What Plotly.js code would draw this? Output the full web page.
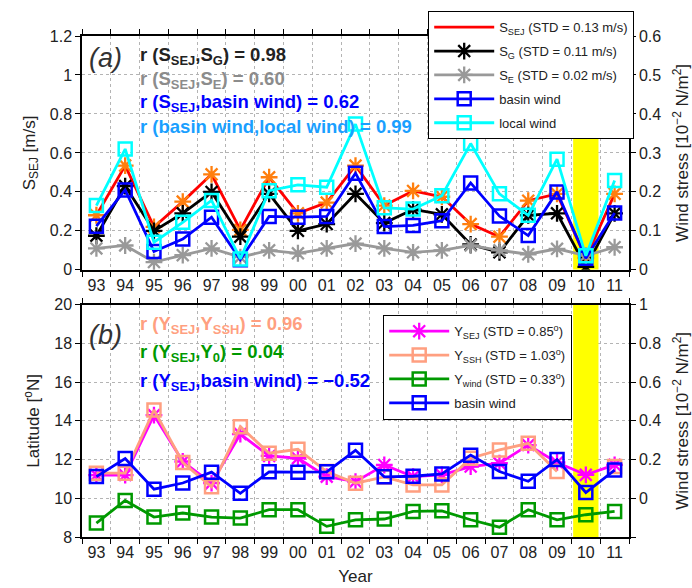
<!DOCTYPE html>
<html>
<head>
<meta charset="utf-8">
<script src="https://cdn.plot.ly/plotly-3.0.1.min.js"></script>
<style>
  html, body { margin: 0; padding: 0; background: #fff; }
  #chart { width: 692px; height: 588px; }
</style>
</head>
<body>
<div id="chart"></div>
<script>
// Years 1993-2011 (two-digit labels)
const years = ['93','94','95','96','97','98','99','00','01','02','03','04','05','06','07','08','09','10','11'];

// Panel (a): jet speed components [m/s]
const sSEJ = [0.28, 0.535, 0.22, 0.35, 0.49, 0.205, 0.475, 0.29, 0.345, 0.535, 0.33, 0.405, 0.375, 0.235, 0.17, 0.355, 0.39, 0.06, 0.39];
const sG   = [0.175, 0.43, 0.20, 0.29, 0.40, 0.17, 0.39, 0.20, 0.235, 0.39, 0.24, 0.31, 0.285, 0.13, 0.09, 0.28, 0.29, 0.015, 0.29];
const sE   = [0.11, 0.125, 0.04, 0.075, 0.11, 0.065, 0.10, 0.085, 0.11, 0.135, 0.11, 0.09, 0.10, 0.125, 0.10, 0.08, 0.108, 0.073, 0.116];

// Wind stress [10^-2 N/m^2]
const basinWind = [0.112, 0.205, 0.047, 0.079, 0.135, 0.026, 0.137, 0.135, 0.137, 0.248, 0.111, 0.114, 0.126, 0.223, 0.138, 0.088, 0.20, 0.03, 0.146];
const localWind = [0.165, 0.31, 0.071, 0.122, 0.178, 0.028, 0.203, 0.218, 0.212, 0.374, 0.159, 0.156, 0.19, 0.324, 0.195, 0.14, 0.284, 0.036, 0.229];

// Panel (b): jet latitude [deg N]
const ySEJ  = [11.2, 11.2, 14.3, 11.9, 10.78, 13.32, 12.19, 12.07, 11.12, 10.86, 11.72, 11.12, 11.21, 11.64, 11.81, 12.75, 11.85, 11.21, 11.73];
const ySSH  = [11.3, 11.3, 14.56, 11.85, 10.6, 13.7, 12.33, 12.53, 11.38, 10.78, 11.1, 10.69, 10.69, 12.07, 12.5, 12.84, 11.38, null, 11.64];
const yWind = [8.72, 9.89, 9.03, 9.24, 9.03, 8.98, 9.41, 9.41, 8.55, 8.89, 8.93, 9.32, 9.35, 8.89, 8.51, 9.41, 8.89, 9.15, 9.32];

// Legend / annotation text
const legendA = ['S<sub>SEJ</sub> (STD = 0.13 m/s)', 'S<sub>G</sub> (STD = 0.11 m/s)', 'S<sub>E</sub> (STD = 0.02 m/s)', 'basin wind', 'local wind'];
const legendB = ['Y<sub>SEJ</sub> (STD = 0.85<sup>o</sup>)', 'Y<sub>SSH</sub> (STD = 1.03<sup>o</sup>)', 'Y<sub>wind</sub> (STD = 0.33<sup>o</sup>)', 'basin wind'];
const corrA = ['r (S<sub>SEJ</sub>,S<sub>G</sub>) = 0.98', 'r (S<sub>SEJ</sub>,S<sub>E</sub>) = 0.60', 'r (S<sub>SEJ</sub>,basin wind) = 0.62', 'r (basin wind,local wind) = 0.99'];
const corrB = ['r (Y<sub>SEJ</sub>,Y<sub>SSH</sub>) = 0.96', 'r (Y<sub>SEJ</sub>,Y<sub>0</sub>) = 0.04', 'r (Y<sub>SEJ</sub>,basin wind) = \u22120.52'];

// axis extents
const rangeA = [0, 1.2], rangeA2 = [0, 0.6], rangeB = [8, 20], rangeB2 = [-0.2, 1];

const FONT = 'Liberation Sans, Arial, Helvetica, sans-serif';
const RED = '#ff0000', BLACK = '#000000', GRAY = '#999999', BLUE = '#0000ff', CYAN = '#00ffff';
const MAGENTA = '#ff00ff', SALMON = '#ff9f80', GREEN = '#009900';

function star(color) { return { symbol: 'asterisk-open', size: 14, line: { color: color, width: 2.3 } }; }
function box(color)  { return { symbol: 'square-open', size: 13, color: color, line: { color: color, width: 2.5 } }; }

const LW = 2.8;
const traces = [
  // panel (a), left axis: S_SEJ line (legend shows the line only) and its star markers
  { x: years, y: sSEJ, xaxis: 'x', yaxis: 'y', mode: 'lines', name: legendA[0], line: { color: RED, width: LW }, legend: 'legend', legendgroup: 'a1' },
  { x: years, y: sSEJ, xaxis: 'x', yaxis: 'y', mode: 'markers', marker: star(RED), showlegend: false },
  { x: years, y: sG, xaxis: 'x', yaxis: 'y', mode: 'lines+markers', name: legendA[1], line: { color: BLACK, width: LW }, marker: star(BLACK), legend: 'legend', legendgroup: 'a2' },
  { x: years, y: sE, xaxis: 'x', yaxis: 'y', mode: 'lines+markers', name: legendA[2], line: { color: GRAY, width: LW }, marker: star(GRAY), legend: 'legend', legendgroup: 'a3' },
  // panel (a), right axis
  { x: years, y: basinWind, xaxis: 'x', yaxis: 'y2', mode: 'lines+markers', name: legendA[3], line: { color: BLUE, width: LW }, marker: box(BLUE), legend: 'legend', legendgroup: 'a4' },
  { x: years, y: localWind, xaxis: 'x', yaxis: 'y2', mode: 'lines+markers', name: legendA[4], line: { color: CYAN, width: LW }, marker: box(CYAN), legend: 'legend', legendgroup: 'a5' },
  // panel (b), left axis
  { x: years, y: ySEJ, xaxis: 'x2', yaxis: 'y3', mode: 'lines+markers', name: legendB[0], line: { color: MAGENTA, width: LW }, marker: star(MAGENTA), legend: 'legend2', legendgroup: 'b1' },
  { x: years, y: ySSH, xaxis: 'x2', yaxis: 'y3', mode: 'lines+markers', name: legendB[1], line: { color: SALMON, width: LW }, marker: box(SALMON), connectgaps: false, legend: 'legend2', legendgroup: 'b2' },
  { x: years, y: yWind, xaxis: 'x2', yaxis: 'y3', mode: 'lines+markers', name: legendB[2], line: { color: GREEN, width: LW }, marker: box(GREEN), legend: 'legend2', legendgroup: 'b3' },
  // panel (b), right axis
  { x: years, y: basinWind, xaxis: 'x2', yaxis: 'y4', mode: 'lines+markers', name: legendB[3], line: { color: BLUE, width: LW }, marker: box(BLUE), legend: 'legend2', legendgroup: 'b4' }
];

// plot-area frame in page pixels
const L = 82, R = 629, T = 35, B = 537;
const px = v => (v - L) / (R - L);
const py = v => (B - v) / (B - T);

const tickFont = { family: FONT, size: 16, color: '#222' };
const titleFont = { family: FONT, size: 17, color: '#222' };
const grid = { showgrid: true, gridcolor: '#b4b4b4', griddash: 'dot', gridwidth: 1 };

function xAxis(anchor, withTitle) {
  return Object.assign({
    type: 'category', anchor: anchor, domain: [0, 1], range: [-0.5, 18.5],
    tickson: 'boundaries', ticks: 'outside', ticklen: 5, tickwidth: 1, tickcolor: '#000',
    showline: true, linecolor: '#000', linewidth: 1.5, mirror: 'ticks',
    tickfont: tickFont, zeroline: false, automargin: false,
    title: withTitle ? { text: 'Year', font: titleFont, standoff: 10 } : { text: '' }
  }, grid);
}

function legendBox(x, y) {
  return {
    x: px(x), y: py(y), xanchor: 'left', yanchor: 'top',
    bgcolor: '#fff', bordercolor: '#000', borderwidth: 1.2,
    font: { family: FONT, size: 13, color: '#222' }, itemwidth: 60,
    traceorder: 'grouped', tracegroupgap: 4
  };
}

const layout = {
  width: 692, height: 588,
  margin: { l: L, r: 692 - R, t: T, b: 588 - B },
  paper_bgcolor: '#fff', plot_bgcolor: '#fff',
  font: { family: FONT, color: '#222' },
  xaxis: xAxis('y', false),
  xaxis2: xAxis('y3', true),
  yaxis: Object.assign({
    domain: [py(269.3), 1], range: rangeA, dtick: 0.2, tick0: 0,
    ticks: 'outside', ticklen: 5, tickcolor: '#000', showline: true, linecolor: '#000', linewidth: 1.5,
    tickfont: tickFont, zeroline: false, automargin: false,
    title: { text: 'S<sub>SEJ</sub> [m/s]', font: titleFont, standoff: 10 }
  }, grid),
  yaxis2: {
    overlaying: 'y', side: 'right', anchor: 'x', range: rangeA2, dtick: 0.1, tick0: 0,
    ticks: 'outside', ticklen: 5, tickcolor: '#000', showline: true, linecolor: '#000', linewidth: 1.5,
    showgrid: false, zeroline: false, tickfont: tickFont, automargin: false,
    title: { text: 'Wind stress [10<sup>\u22122</sup> N/m<sup>2</sup>]', font: titleFont, standoff: 18 }
  },
  yaxis3: Object.assign({
    domain: [0, py(304.3)], range: rangeB, dtick: 2, tick0: 8, anchor: 'x2',
    ticks: 'outside', ticklen: 5, tickcolor: '#000', showline: true, linecolor: '#000', linewidth: 1.5,
    tickfont: tickFont, zeroline: false, automargin: false,
    title: { text: 'Latitude [<sup>o</sup>N]', font: titleFont, standoff: 10 }
  }, grid),
  yaxis4: {
    overlaying: 'y3', side: 'right', anchor: 'x2', range: rangeB2,
    tickmode: 'array', tickvals: [-0.2, 0, 0.2, 0.4, 0.6, 0.8, 1], ticktext: ['', '0', '0.2', '0.4', '0.6', '0.8', '1'],
    ticks: 'outside', ticklen: 5, tickcolor: '#000', showline: true, linecolor: '#000', linewidth: 1.5,
    showgrid: false, zeroline: false, tickfont: tickFont, automargin: false,
    title: { text: 'Wind stress [10<sup>\u22122</sup> N/m<sup>2</sup>]', font: titleFont, standoff: 18 }
  },
  legend: legendBox(428, 11),
  legend2: legendBox(383, 315),
  // 2010 highlight band spanning each panel's full height
  shapes: [
    { type: 'rect', xref: 'x', yref: 'y', x0: 16.56, x1: 17.44, y0: rangeA[0], y1: rangeA[1], fillcolor: '#ffff00', line: { width: 0 }, layer: 'between' },
    { type: 'rect', xref: 'x2', yref: 'y3', x0: 16.56, x1: 17.44, y0: rangeB[0], y1: rangeB[1], fillcolor: '#ffff00', line: { width: 0 }, layer: 'between' }
  ],
  annotations: [],
  showlegend: true
};

function label(text, x, y, color, size, italic) {
  return {
    text: italic ? '<i>' + text + '</i>' : text, xref: 'paper', yref: 'paper', x: px(x), y: py(y),
    xanchor: 'left', yanchor: 'middle', showarrow: false,
    font: { family: FONT, size: size, color: color, weight: italic ? 'normal' : 'bold' }
  };
}

layout.annotations.push(label('(a)', 87, 57, '#333', 27, true));
const colA = ['#222222', '#8c8c8c', '#0000ff', '#1a9fff'];
const rowA = [55, 79, 102, 126];
corrA.forEach((t, i) => layout.annotations.push(label(t, 138, rowA[i], colA[i], 18.5, false)));

layout.annotations.push(label('(b)', 87, 335, '#333', 27, true));
const colB = ['#ff9f80', '#009900', '#0000ff'];
const rowB = [325, 353, 382];
corrB.forEach((t, i) => layout.annotations.push(label(t, 138, rowB[i], colB[i], 18.5, false)));

Plotly.newPlot('chart', traces, layout, { displayModeBar: false });
</script>
</body>
</html>
